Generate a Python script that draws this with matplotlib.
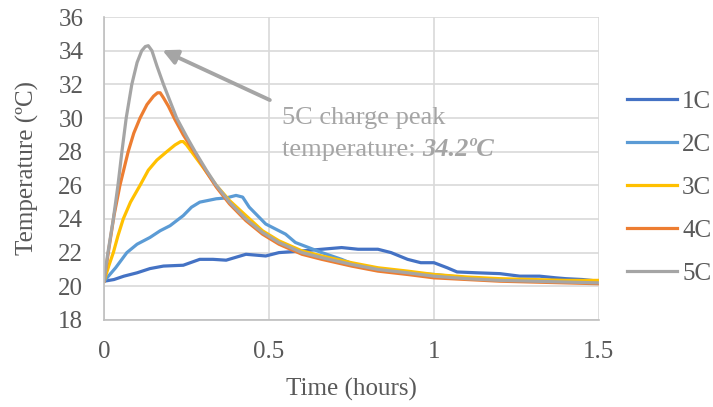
import matplotlib
matplotlib.use("Agg")
import matplotlib.pyplot as plt

plt.rcParams["font.family"] = ["Liberation Serif", "DejaVu Serif"]

# charge rate curves, time in hours / temperature in degC
t1 = [0, 0.03, 0.06, 0.1, 0.139, 0.18, 0.24, 0.29, 0.33, 0.37, 0.43, 0.49, 0.53, 0.6, 0.66,
      0.72, 0.77, 0.83, 0.87, 0.92, 0.96, 1.0, 1.04, 1.07, 1.13, 1.2, 1.26, 1.32, 1.37, 1.4, 1.45, 1.5]
T1 = [20.3, 20.4, 20.6, 20.8, 21.05, 21.2, 21.25, 21.6, 21.6, 21.55, 21.9, 21.8, 22.0, 22.1, 22.2,
      22.3, 22.2, 22.2, 22.0, 21.6, 21.4, 21.4, 21.1, 20.85, 20.8, 20.75, 20.6, 20.6, 20.5, 20.45, 20.4, 20.3]

t2 = [0, 0.035, 0.069, 0.1, 0.139, 0.17, 0.2, 0.24, 0.265, 0.29, 0.34, 0.37, 0.4, 0.42, 0.44, 0.465,
      0.49, 0.52, 0.55, 0.58, 0.62, 0.66, 0.72, 0.77, 0.85, 0.92, 1.0, 1.1, 1.2, 1.3, 1.4, 1.5]
T2 = [20.3, 21.1, 22.0, 22.5, 22.9, 23.3, 23.6, 24.2, 24.7, 25.0, 25.2, 25.25, 25.4, 25.3, 24.7, 24.2,
      23.7, 23.4, 23.1, 22.6, 22.3, 22.0, 21.6, 21.2, 21.0, 20.8, 20.7, 20.5, 20.4, 20.35, 20.3, 20.25]

t3 = [0, 0.014, 0.028, 0.042, 0.058, 0.08, 0.109, 0.134, 0.16, 0.19, 0.215, 0.232, 0.24, 0.25, 0.265,
      0.28, 0.31, 0.34, 0.38, 0.43, 0.48, 0.53, 0.6, 0.66, 0.75, 0.83, 0.92, 1.0, 1.1, 1.2, 1.3, 1.4, 1.5]
T3 = [20.3, 21.2, 22.0, 23.0, 24.0, 25.0, 26.0, 26.9, 27.5, 28.0, 28.4, 28.6, 28.6, 28.4, 28.0,
      27.6, 26.8, 26.0, 25.1, 24.2, 23.3, 22.7, 22.1, 21.8, 21.4, 21.1, 20.9, 20.7, 20.55, 20.45, 20.4, 20.35, 20.35]

t4 = [0, 0.015, 0.03, 0.048, 0.073, 0.09, 0.109, 0.13, 0.15, 0.162, 0.17, 0.18, 0.195, 0.215, 0.24,
      0.276, 0.31, 0.34, 0.38, 0.43, 0.48, 0.53, 0.6, 0.66, 0.75, 0.83, 0.92, 1.0, 1.1, 1.2, 1.3, 1.4, 1.5]
T4 = [20.3, 22.3, 24.2, 26.0, 28.0, 29.1, 30.0, 30.8, 31.3, 31.5, 31.5, 31.2, 30.7, 29.9, 29.0,
      27.9, 26.8, 25.9, 24.9, 23.9, 23.1, 22.5, 21.9, 21.6, 21.2, 20.9, 20.7, 20.5, 20.4, 20.3, 20.25, 20.2, 20.15]

t5 = [0, 0.01, 0.028, 0.042, 0.054, 0.067, 0.084, 0.1, 0.114, 0.125, 0.134, 0.145, 0.16, 0.18, 0.2,
      0.22, 0.25, 0.276, 0.31, 0.34, 0.38, 0.43, 0.48, 0.53, 0.6, 0.66, 0.75, 0.83, 0.92, 1.0, 1.1,
      1.2, 1.3, 1.4, 1.5]
T5 = [20.3, 21.8, 24.0, 26.0, 28.0, 30.0, 32.0, 33.3, 34.0, 34.25, 34.3, 34.0, 33.1, 32.0, 31.0,
      30.0, 28.9, 28.0, 26.9, 26.0, 25.0, 24.0, 23.2, 22.6, 22.0, 21.7, 21.3, 21.0, 20.8, 20.6, 20.45,
      20.35, 20.3, 20.25, 20.2]

labels = ["1C", "2C", "3C", "4C", "5C"]
colors = ["#4472C4", "#5B9BD5", "#FFC000", "#ED7D31", "#A5A5A5"]
series = [(t1, T1), (t2, T2), (t3, T3), (t4, T4), (t5, T5)]

peak_t = 0.134
peak_T = 34.2

fig = plt.figure(figsize=(7.13, 4.07), dpi=100)
ax = fig.add_axes([0.146, 0.214, 0.694, 0.744])

for (t, T), lab, c in zip(series, labels, colors):
    ax.plot(t, T, color=c, linewidth=2.3, label=lab, solid_joinstyle="round")

ax.set_xlim(0, 1.5)
ax.set_ylim(18, 36)
ax.set_xticks([0, 0.5, 1, 1.5])
ax.set_xticklabels(["0", "0.5", "1", "1.5"])
ax.set_yticks(range(18, 37, 2))
ax.grid(True, color="#D9D9D9", linewidth=1.2)
ax.set_axisbelow(True)
for s in ["top", "right"]:
    ax.spines[s].set_visible(False)
for s in ["left", "bottom"]:
    ax.spines[s].set_color("#BFBFBF")
    ax.spines[s].set_linewidth(1.2)
ax.tick_params(length=0, labelsize=18, colors="#595959")
ax.tick_params(axis="y", pad=15)
ax.tick_params(axis="x", pad=15)

ax.set_xlabel("Time (hours)", fontsize=18, color="#595959", labelpad=11)
ax.set_ylabel("Temperature (ºC)", fontsize=18, color="#595959", labelpad=14)

# peak annotation
ax.annotate("", xy=(peak_t + 0.035, peak_T - 0.1), xytext=(0.51, 31.0),
            arrowprops=dict(arrowstyle="-|>", color="#A5A5A5", lw=2.8, mutation_scale=22))
ax.text(0.539, 29.67, "5C charge peak", fontsize=19, color="#A5A5A5", va="baseline")
line2 = ax.text(0.539, 27.77, "temperature: ", fontsize=19, color="#A5A5A5", va="baseline")
ax.annotate("34.2ºC", xy=(1, 0), xycoords=line2, fontsize=19, color="#A5A5A5",
            fontweight="bold", fontstyle="italic", va="bottom", ha="left")

leg = ax.legend(loc="center left", bbox_to_anchor=(1.057, 0.436), frameon=False,
                fontsize=18, handlelength=2.0, labelspacing=0.82, handletextpad=0.2,
                borderaxespad=0, borderpad=0)
for txt in leg.get_texts():
    txt.set_color("#595959")

fig.savefig("out.png", dpi=100)
